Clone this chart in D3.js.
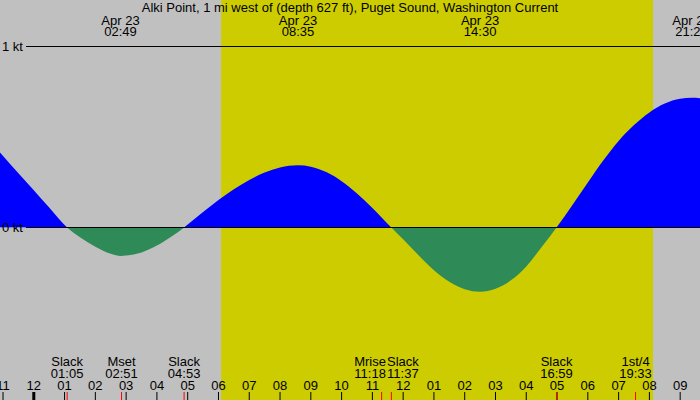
<!DOCTYPE html>
<html><head><meta charset="utf-8">
<script src="https://cdn.jsdelivr.net/npm/d3@7"></script>
<style>
body{margin:0;background:#c0c0c0}
svg{display:block}
text{font-family:"Liberation Sans",Arial,Helvetica,sans-serif;font-size:13px;fill:#000}
</style>
</head><body>
<svg id="chart" width="700" height="400"></svg>
<script>
// ---------- data ----------
const title = "Alki Point, 1 mi west of (depth 627 ft), Puget Sound, Washington Current";
// hours relative to midnight Apr 23 (negative = Apr 22), current speed in knots
const hours  = [-1.1, -0.5, 0, 0.5, 1.083, 1.5, 2.0, 2.5, 2.817, 3.0, 3.5, 4.0, 4.5, 4.883,
                5.0, 5.5, 6.0, 6.5, 7.0, 7.5, 8.0, 8.583, 9.0, 9.5, 10.0, 10.5, 11.0, 11.617,
                12.0, 12.5, 13.0, 13.5, 14.0, 14.5, 15.0, 15.5, 16.0, 16.5, 16.983,
                17.5, 18.0, 18.5, 19.0, 19.5, 20.0, 20.5, 21.0, 21.37, 21.7];
const speeds = [0.415, 0.300, 0.206, 0.110, 0, -0.054, -0.106, -0.145, -0.157, -0.155, -0.138, -0.100, -0.047, 0,
                0.016, 0.085, 0.152, 0.212, 0.263, 0.304, 0.332, 0.344, 0.336, 0.306, 0.256, 0.188, 0.108, 0,
                -0.065, -0.153, -0.236, -0.300, -0.341, -0.355, -0.338, -0.292, -0.215, -0.108, 0,
                0.125, 0.248, 0.370, 0.478, 0.566, 0.636, 0.685, 0.711, 0.717, 0.714];
const extremaDates = ["Apr 23", "Apr 23", "Apr 23", "Apr 23"];
const extremaTimes = ["02:49", "08:35", "14:30", "21:22"];
const eventNames = ["Slack", "Mset", "Slack", "Mrise", "Slack", "Slack", "1st/4"];
const eventTimes = ["01:05", "02:51", "04:53", "11:18", "11:37", "16:59", "19:33"];
const sunrise = "06:05", sunset = "20:07";
const tickHours = d3.range(-1, 22);
const yTicks = [0, 1];
const yTickLabels = ["0 kt", "1 kt"];

// ---------- helpers ----------
const toH = s => { const [h, m] = s.split(":").map(Number); return h + m / 60; };
const fmtHour = h => { let v = ((h % 12) + 12) % 12; if (v === 0) v = 12; return String(v).padStart(2, "0"); };

const W = 700, H = 400;
const svg = d3.select("#chart");
const x = d3.scaleLinear().domain([-1.098, 21.644]).range([0, W]);
const y = d3.scaleLinear().domain([0, 1]).range([227.5, 46.5]);

// background
svg.append("rect").attr("width", W).attr("height", H).attr("fill", "#c0c0c0");
svg.append("rect").attr("x", x(toH(sunrise))).attr("y", 0)
   .attr("width", x(toH(sunset)) - x(toH(sunrise))).attr("height", H).attr("fill", "#cccc00");

// clip paths
const defs = svg.append("defs");
defs.append("clipPath").attr("id", "above").append("rect")
    .attr("x", 0).attr("y", 0).attr("width", W).attr("height", y(0));
defs.append("clipPath").attr("id", "below").append("rect")
    .attr("x", 0).attr("y", y(0)).attr("width", W).attr("height", H - y(0));

const pts = hours.map((h, i) => ({ h, v: speeds[i] }));
const area = d3.area().x(d => x(d.h)).y0(y(0)).y1(d => y(d.v)).curve(d3.curveMonotoneX);
svg.append("path").datum(pts).attr("d", area).attr("fill", "#0000ff").attr("clip-path", "url(#above)");
svg.append("path").datum(pts).attr("d", area).attr("fill", "#2e8b57").attr("clip-path", "url(#below)");

// y reference lines + labels
yTicks.forEach((v, i) => {
  svg.append("line").attr("x1", 26).attr("x2", W).attr("y1", y(v)).attr("y2", y(v))
     .attr("stroke", "#000").attr("stroke-width", 1);
  svg.append("text").attr("x", 2).attr("y", y(v) + 4.5).text(yTickLabels[i]);
});

// title
svg.append("text").attr("x", W / 2).attr("y", 12).attr("text-anchor", "middle").text(title);

// labels with simple collision avoidance
function placeLabels(times, l1, l2, y1, y2) {
  const groups = times.map((t, i) => {
    const g = svg.append("g");
    const a = g.append("text").attr("text-anchor", "middle").attr("y", y1).text(l1[i]);
    const b = g.append("text").attr("text-anchor", "middle").attr("y", y2).text(l2[i]);
    const w = Math.max(a.node().getComputedTextLength(), b.node().getComputedTextLength()) + 1;
    return { g, a, b, cx: x(toH(t)), w };
  });
  for (let i = 0; i < groups.length - 1; i++) {
    const L = groups[i], R = groups[i + 1];
    const overlap = (L.cx + L.w / 2) - (R.cx - R.w / 2);
    if (overlap > 0) {
      const mid = (L.cx + R.cx) / 2;
      L.cx = mid - L.w / 2; R.cx = mid + R.w / 2;
    }
  }
  groups.forEach(o => { o.a.attr("x", o.cx); o.b.attr("x", o.cx); });
}
placeLabels(extremaTimes, extremaDates, extremaTimes, 25, 36);
placeLabels(eventTimes, eventNames, eventTimes, 366, 378);

// hour axis
const axisY = 392;
tickHours.forEach(h => {
  svg.append("text").attr("x", x(h)).attr("y", 390).attr("text-anchor", "middle").text(fmtHour(h));
  svg.append("line").attr("x1", x(h)).attr("x2", x(h)).attr("y1", axisY).attr("y2", H)
     .attr("stroke", "#000").attr("stroke-width", h === 0 ? 3 : 1);
});
eventTimes.forEach(t => {
  svg.append("line").attr("x1", x(toH(t))).attr("x2", x(toH(t))).attr("y1", axisY).attr("y2", H)
     .attr("stroke", "#ff0000").attr("stroke-width", 1);
});
</script>
</body></html>
